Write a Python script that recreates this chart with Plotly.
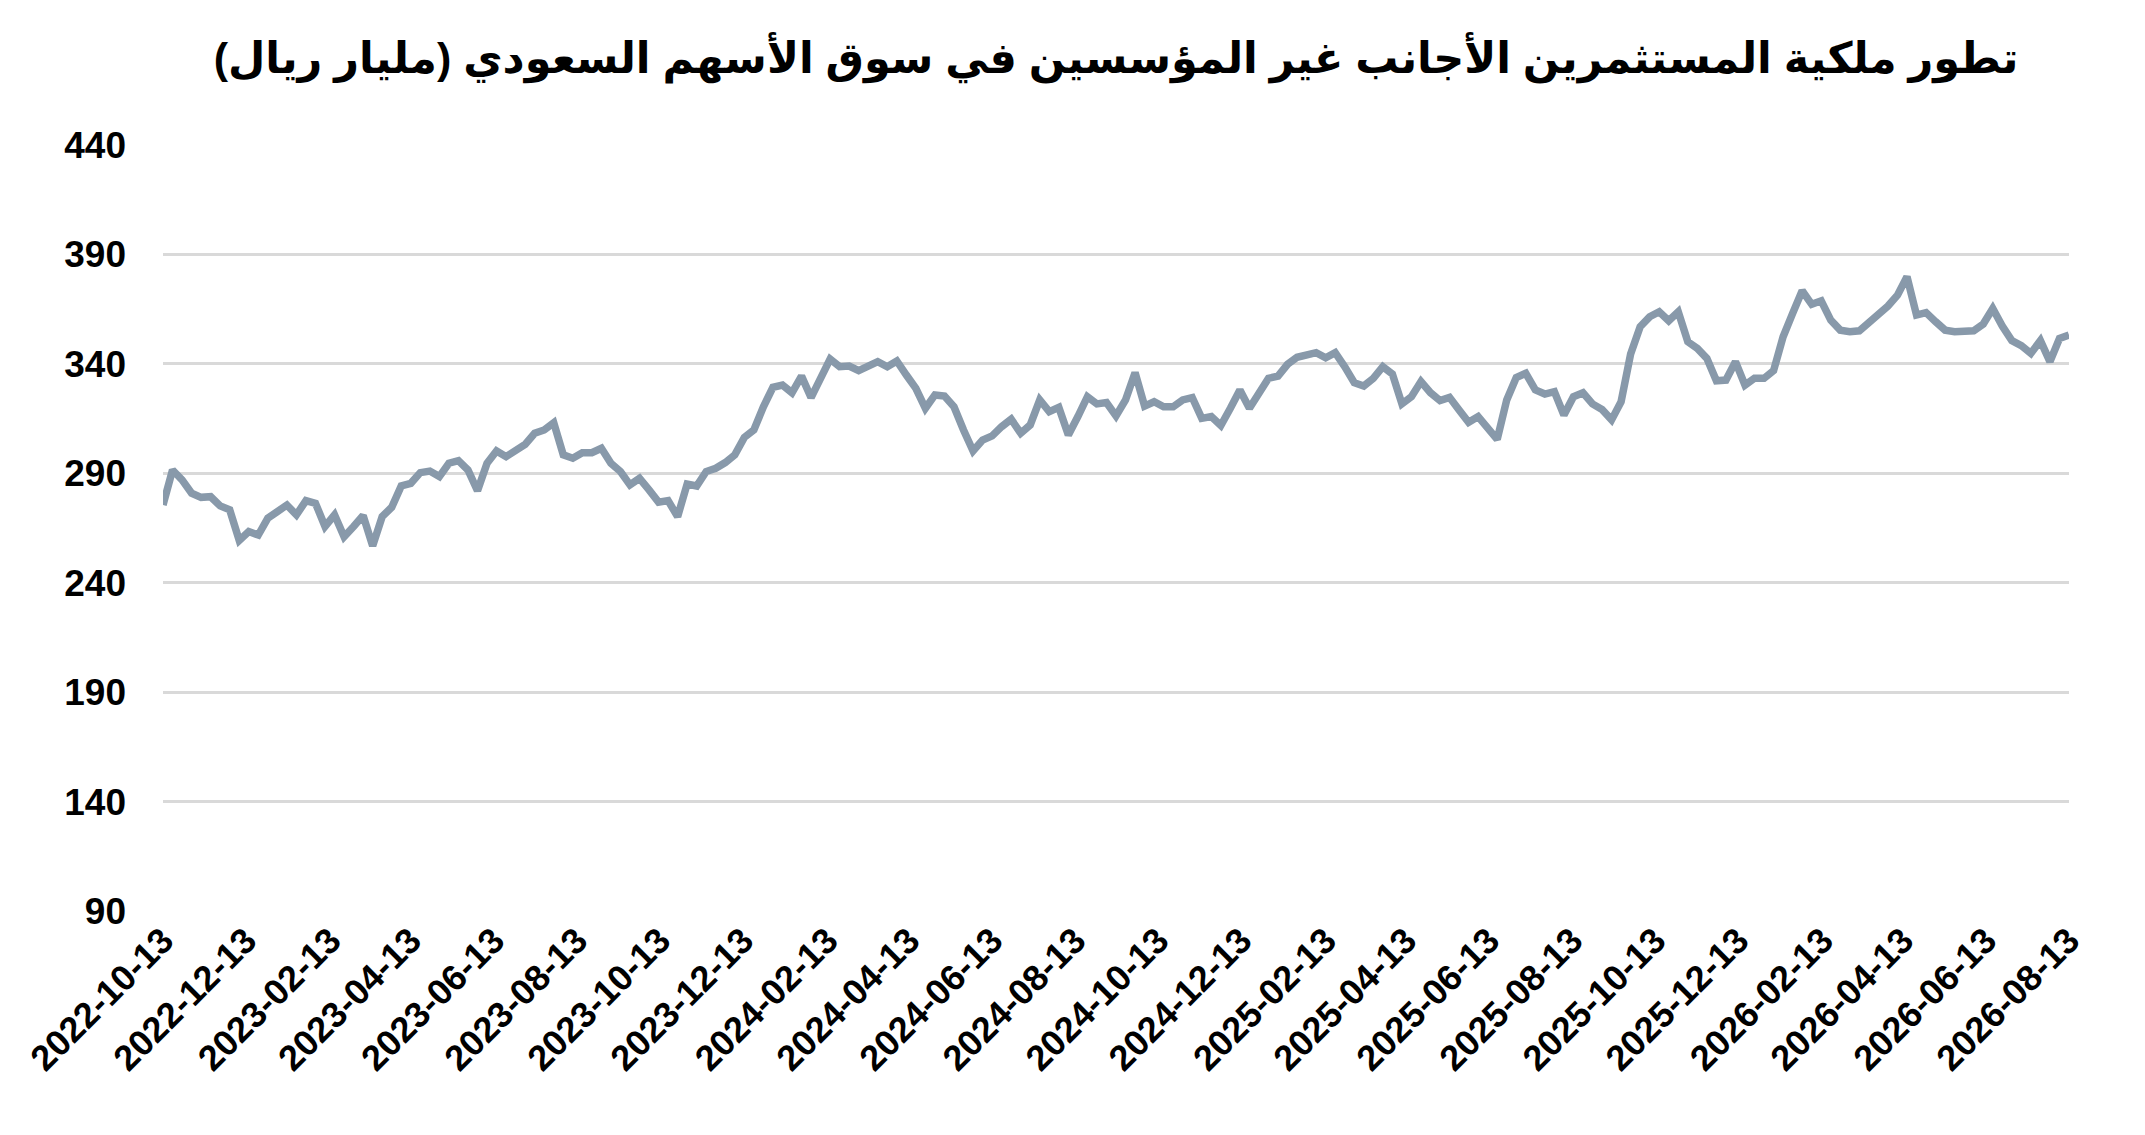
import pandas as pd
import plotly.graph_objects as go

# weekly readings, billion riyals
start_date = "2022-10-13"
values = [
    275.5, 291.5, 287.0, 280.9, 279.0, 279.3, 275.1, 273.3, 259.3, 263.4,
    261.8, 269.5, 272.5, 275.5, 271.0, 277.5, 276.3, 265.7, 271.0, 261.0,
    265.7, 270.7, 256.8, 270.2, 274.5, 284.2, 285.4, 290.3, 291.0, 288.5,
    294.6, 295.8, 291.5, 282.0, 294.6, 300.2, 297.6, 300.7, 303.2, 308.3,
    309.8, 313.1, 298.4, 296.9, 299.4, 299.4, 301.4, 294.6, 290.8, 284.7,
    287.7, 282.4, 276.8, 277.5, 270.2, 285.1, 284.2, 290.8, 292.3, 294.9,
    298.4, 306.4, 309.8, 320.4, 329.3, 330.3, 326.8, 334.4, 324.6, 333.4,
    342.2, 338.7, 339.0, 336.9, 338.7, 341.0, 338.7, 341.3, 334.9, 328.8,
    319.7, 325.8, 325.3, 320.4, 309.8, 300.2, 305.2, 307.1, 311.3, 314.7,
    308.3, 312.1, 323.5, 318.2, 320.1, 307.5, 315.9, 325.0, 321.7, 322.3,
    316.2, 323.5, 336.0, 320.7, 322.7, 320.4, 320.4, 323.5, 324.6, 315.1,
    315.9, 311.8, 319.7, 328.1, 319.7, 326.5, 333.4, 334.4, 339.8, 343.0,
    344.0, 345.1, 342.8, 345.1, 338.7, 331.4, 329.9, 333.4, 338.7, 335.4,
    321.7, 325.0, 331.9, 326.8, 323.2, 324.7, 318.9, 313.3, 315.9, 310.6,
    305.5, 323.5, 333.7, 335.7, 328.1, 326.2, 327.3, 316.6, 325.0, 326.8,
    321.7, 319.2, 314.4, 322.7, 344.5, 357.0, 361.5, 363.8, 359.7, 363.8,
    350.1, 347.1, 342.5, 332.3, 332.6, 341.0, 330.3, 333.4, 333.4, 336.9,
    352.4, 363.1, 373.4, 367.2, 368.8, 360.0, 355.4, 354.7, 355.1, 358.8,
    362.3, 366.4, 371.4, 379.8, 362.3, 363.4, 359.3, 355.4, 354.7, 354.8,
    355.1, 358.2, 365.3, 357.3, 350.6, 348.3, 344.8, 350.6, 341.0, 351.6,
    353.2,
]
dates = pd.date_range(start_date, periods=len(values), freq="7D")

title_text = "تطور ملكية المستثمرين الأجانب غير المؤسسين في سوق الأسهم السعودي (مليار ريال)"
font_family = "Liberation Sans, Arial, DejaVu Sans, sans-serif"

fig = go.Figure()
fig.add_trace(go.Scatter(
    x=dates,
    y=values,
    mode="lines",
    line=dict(color="#8899aa", width=7.5),
    showlegend=False,
))

# the page body adds an 8px offset, so the figure is 8px smaller
W, H = 2137, 1127
fig.update_layout(
    width=W,
    height=H,
    paper_bgcolor="white",
    plot_bgcolor="white",
    margin=dict(l=155, r=76, t=137, b=224),
    title=dict(
        text=title_text,
        x=0.5,
        xref="paper",
        xanchor="center",
        y=1 - 50 / H,
        yanchor="middle",
        font=dict(family=font_family, size=43, color="black", weight="bold"),
    ),
    font=dict(family=font_family, color="black"),
)

fig.update_yaxes(
    range=[90, 440],
    tick0=90,
    dtick=50,
    showgrid=True,
    gridcolor="#d9d9d9",
    gridwidth=2.5,
    zeroline=False,
    showline=False,
    ticklabelstandoff=36,
    tickfont=dict(size=37, weight="bold", color="black"),
)

fig.update_xaxes(
    type="date",
    range=[dates[0], dates[-1]],
    tickmode="linear",
    tick0=start_date,
    dtick="M2",
    tickformat="%Y-%m-%d",
    tickangle=-45,
    showgrid=False,
    zeroline=False,
    showline=False,
    tickfont=dict(size=36, weight="bold", color="black"),
)

fig.write_html("out.html")
